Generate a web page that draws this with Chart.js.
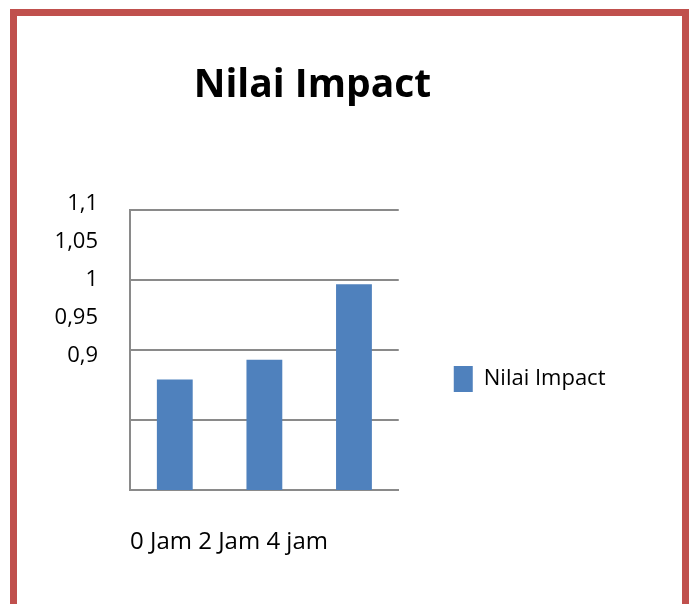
<!DOCTYPE html>
<html>
<head>
<meta charset="utf-8">
<script src="https://cdn.jsdelivr.net/npm/chart.js@4/dist/chart.umd.min.js"></script>
<style>
  html, body { margin: 0; padding: 0; background: #fff; width: 690px; height: 604px; overflow: hidden; }
  #frame { position: absolute; left: 10px; top: 9px; width: 679px; height: 700px; box-sizing: border-box; border: 7px solid #C0504D; background: #fff; }
  #c { position: absolute; left: 0; top: 0; z-index: 2; }
</style>
</head>
<body>
<div id="frame"></div>
<canvas id="c" width="690" height="604"></canvas>
<script>
// ---- data ----
const chartTitle = 'Nilai Impact';
const seriesName = 'Nilai Impact';
const categories = ['0 Jam', '2 Jam', '4 jam'];
const nilaiImpact = [0.979, 0.993, 1.047];
const yTickLabels = [0.9, 0.95, 1, 1.05, 1.1];

const gray = '#8a8a8a';
const FONT = '"Open Sans", "Noto Sans", sans-serif';

new Chart(document.getElementById('c'), {
  type: 'bar',
  data: {
    labels: categories,
    datasets: [{
      label: seriesName,
      data: nilaiImpact,
      backgroundColor: '#4F81BD',
      borderWidth: 0,
      barPercentage: 0.4,
      categoryPercentage: 1.0
    }]
  },
  options: {
    responsive: false,
    maintainAspectRatio: false,
    animation: false,
    layout: { padding: { left: 9.5, right: 74.5, top: 0, bottom: 0 } },
    plugins: {
      tooltip: { enabled: false },
      title: {
        display: true,
        text: chartTitle,
        color: '#000',
        font: { family: FONT, size: 39, weight: 'bold', lineHeight: 1.2 },
        padding: { top: 62.6, bottom: 100.6 }
      },
      legend: {
        display: true,
        position: 'right',
        fullSize: false,
        align: 'center',
        maxWidth: 240,
        title: { display: true, text: '', font: { size: 12, lineHeight: 1.2 }, padding: { top: 43.6, bottom: 0 } },
        labels: {
          boxWidth: 19,
          boxHeight: 26,
          padding: 55,
          color: '#000',
          font: { family: FONT, size: 22 }
        }
      }
    },
    scales: {
      x: {
        position: 'bottom',
        grid: { display: false, drawTicks: false },
        border: { display: true, color: gray, width: 2 },
        ticks: { display: false },
        title: {
          display: true,
          text: categories.join(' '),
          align: 'start',
          color: '#000',
          font: { family: FONT, size: 24, lineHeight: 1.2 },
          padding: { top: 37.6, bottom: 47.6 }
        }
      },
      y: {
        position: 'left',
        weight: 0,
        min: yTickLabels[0],
        max: yTickLabels[yTickLabels.length - 1],
        ticks: { display: false, stepSize: 0.05 },
        grid: { display: true, drawTicks: false, color: gray, lineWidth: 2 },
        border: { display: true, color: gray, width: 2 }
      },
      yLabels: {
        position: 'left',
        weight: 10,
        min: 0.724,
        max: 1.0915,
        grid: { display: false, drawTicks: false },
        border: { display: false },
        afterBuildTicks: (scale) => { scale.ticks = yTickLabels.map(v => ({ value: v })); },
        afterFit: (scale) => { scale.width = 120.5; },
        ticks: {
          autoSkip: false,
          padding: 32,
          color: '#000',
          font: { family: FONT, size: 22 },
          callback: (v) => String(v).replace('.', ',')
        }
      }
    }
  }
});
</script>
</body>
</html>
